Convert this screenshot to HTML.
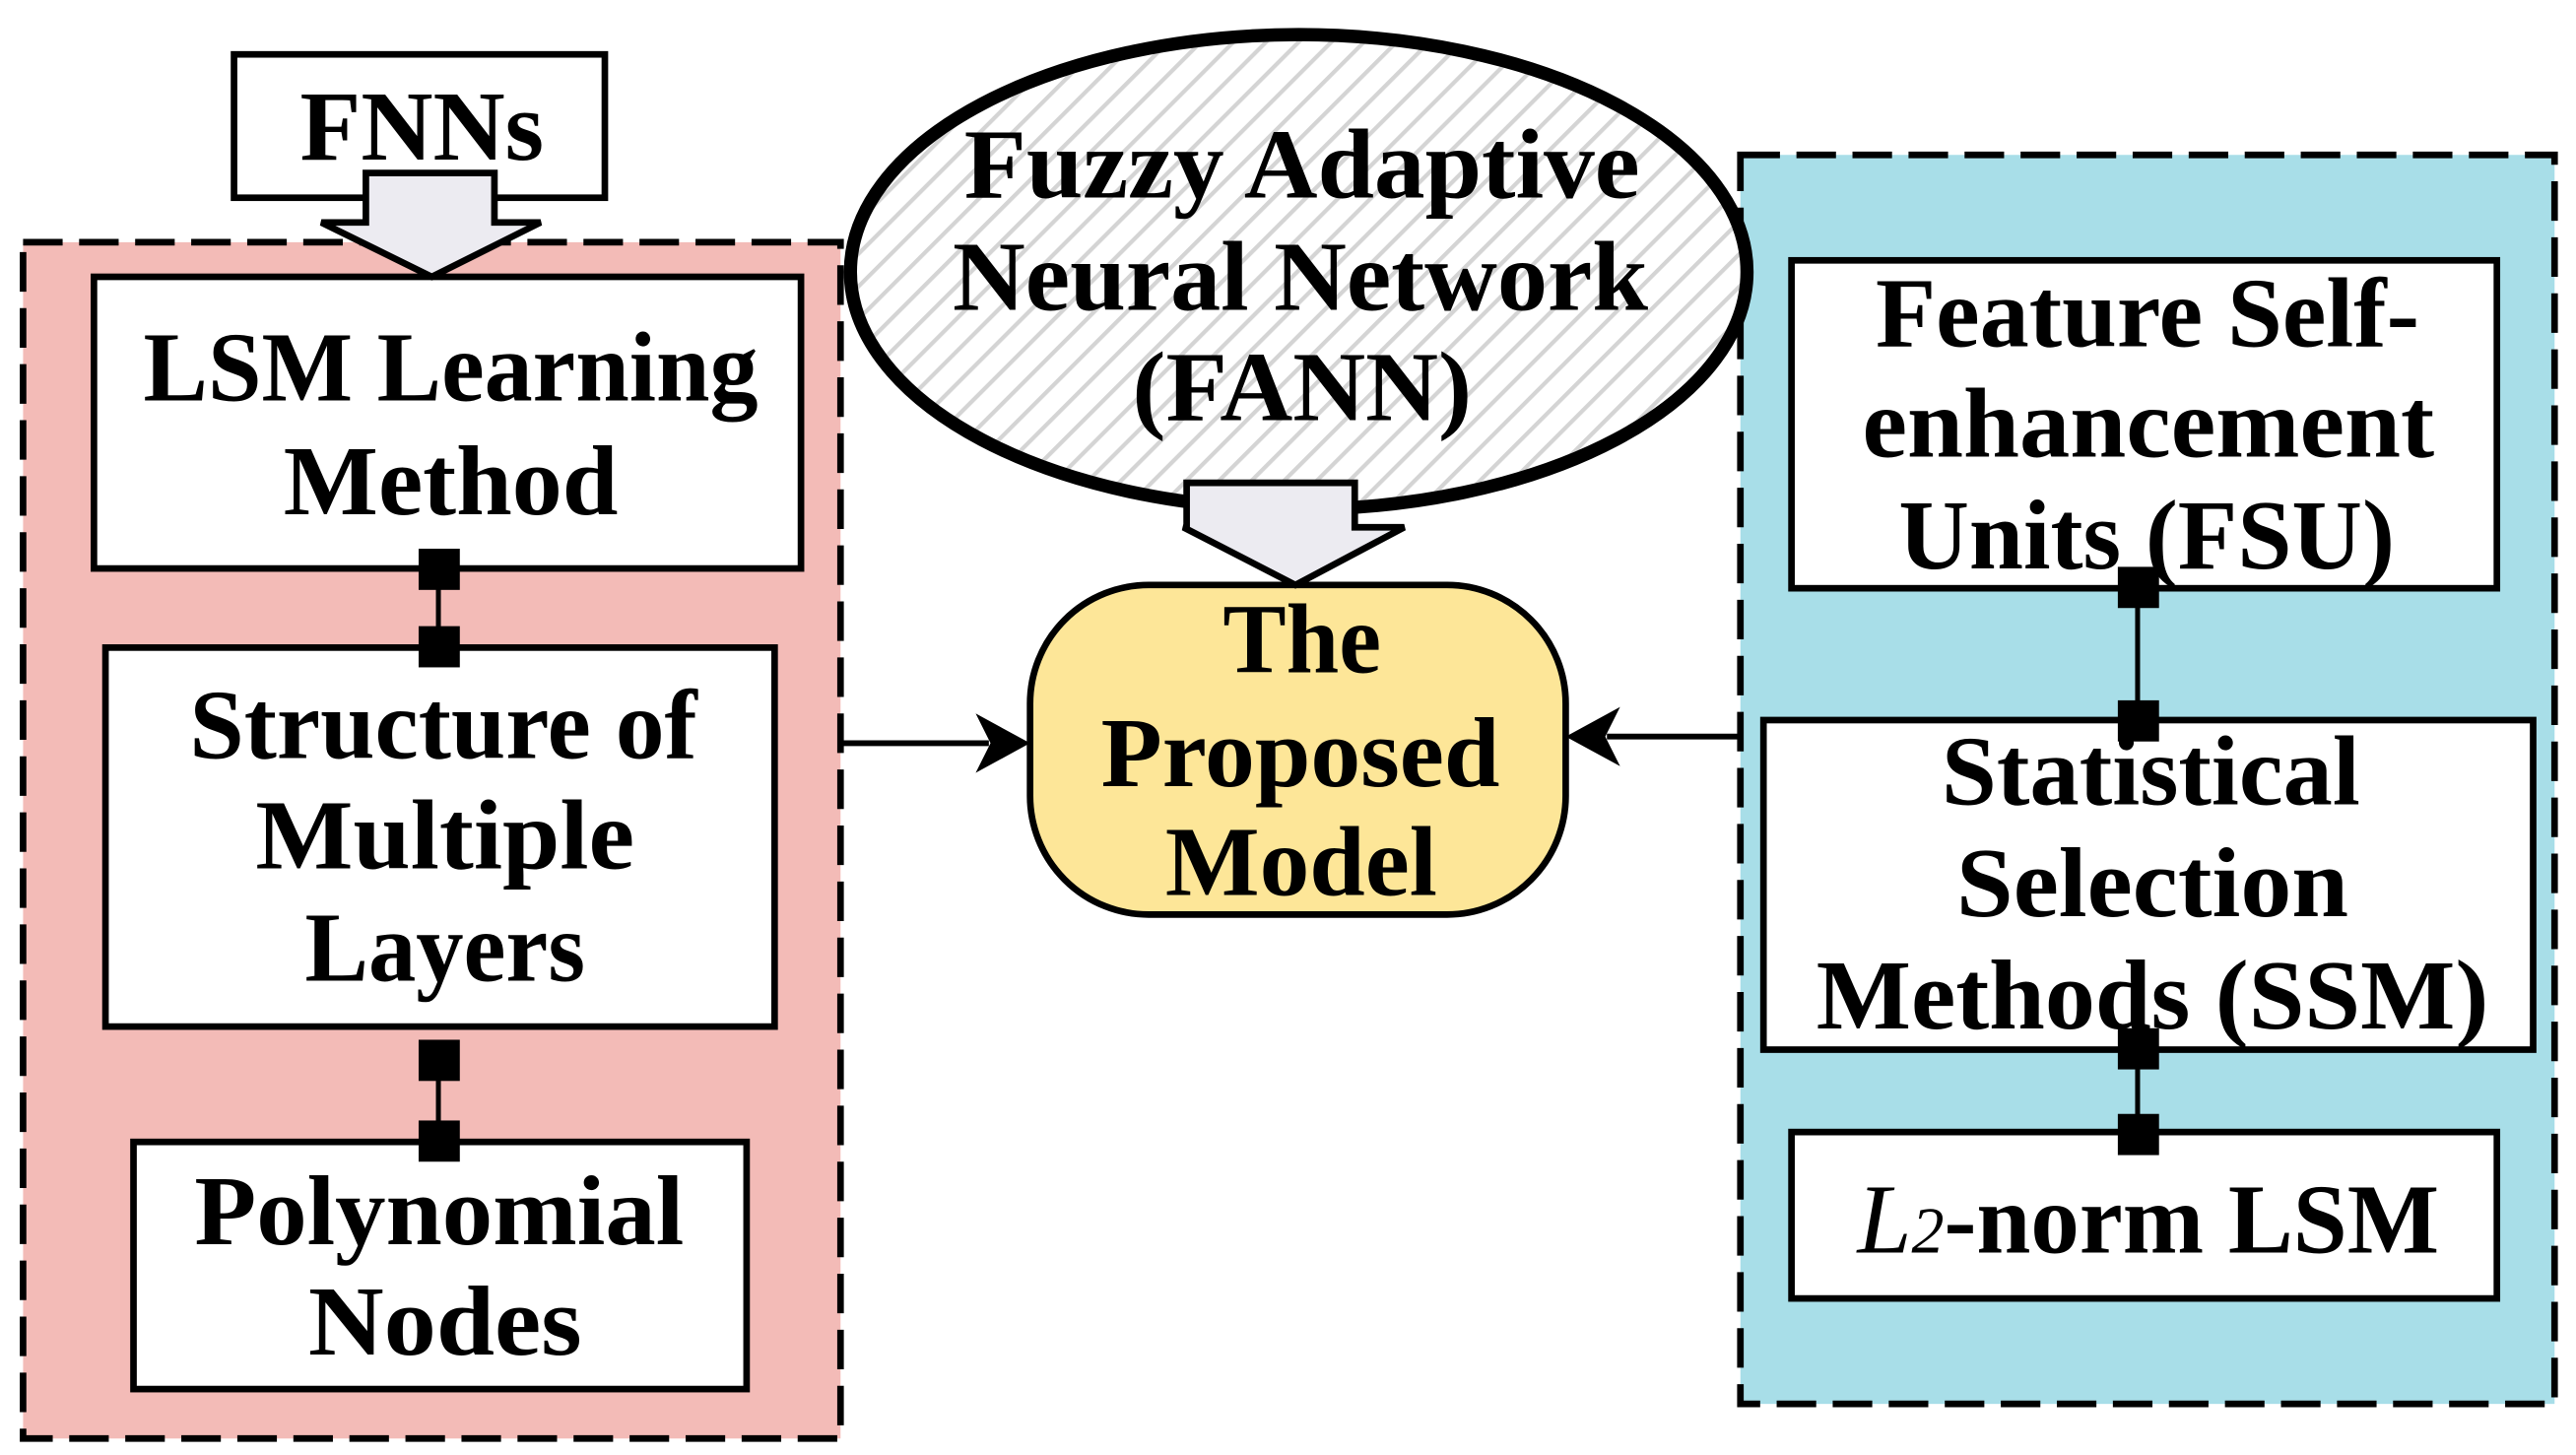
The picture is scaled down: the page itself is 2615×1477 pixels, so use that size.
<!DOCTYPE html>
<html><head><meta charset="utf-8"><style>html,body{margin:0;padding:0;background:#fff}svg{display:block}</style></head>
<body>
<svg width="2615" height="1477" viewBox="0 0 1563 883" preserveAspectRatio="none" xmlns="http://www.w3.org/2000/svg">
<defs>
<pattern id="h" width="14" height="14" patternUnits="userSpaceOnUse" patternTransform="rotate(-45)">
<rect width="14" height="14" fill="#fff"/><rect width="14" height="2.5" fill="#d4d4d4"/>
</pattern>
</defs>
<g font-family="'Liberation Serif', serif" font-weight="bold" font-size="60" fill="#000">
<rect x="14" y="147" width="496" height="726" fill="#f3bbb7" stroke="#000" stroke-width="4" stroke-dasharray="24 10"/>
<rect x="1056" y="94" width="494" height="758" fill="#a8dee8" stroke="#000" stroke-width="4" stroke-dasharray="24 10"/>
<rect x="142" y="33" width="225" height="87" fill="#fff" stroke="#000" stroke-width="4"/>
<text x="182" y="97" textLength="148" lengthAdjust="spacingAndGlyphs">FNNs</text>
<ellipse cx="788" cy="165" rx="272" ry="144" fill="url(#h)" stroke="#000" stroke-width="8"/>
<text x="585" y="120" textLength="410" lengthAdjust="spacingAndGlyphs">Fuzzy Adaptive</text>
<text x="578" y="188" textLength="422" lengthAdjust="spacingAndGlyphs">Neural Network</text>
<text x="687" y="255" textLength="206" lengthAdjust="spacingAndGlyphs">(FANN)</text>
<rect x="57" y="168" width="429" height="177" fill="#fff" stroke="#000" stroke-width="4"/>
<text x="87" y="243" textLength="373" lengthAdjust="spacingAndGlyphs">LSM Learning</text>
<text x="172" y="312" textLength="203" lengthAdjust="spacingAndGlyphs">Method</text>
<polygon points="222,105 300,105 300,135 328,135 262,168 195,135 222,135" fill="#ecebf1" stroke="#000" stroke-width="4"/>
<rect x="64" y="393" width="406" height="230" fill="#fff" stroke="#000" stroke-width="4"/>
<text x="115" y="460" textLength="308" lengthAdjust="spacingAndGlyphs">Structure of</text>
<text x="155" y="527" textLength="230" lengthAdjust="spacingAndGlyphs">Multiple</text>
<text x="185" y="595" textLength="170" lengthAdjust="spacingAndGlyphs">Layers</text>
<rect x="81" y="693" width="372" height="150" fill="#fff" stroke="#000" stroke-width="4"/>
<text x="118" y="755" textLength="297" lengthAdjust="spacingAndGlyphs">Polynomial</text>
<text x="187" y="822" textLength="166" lengthAdjust="spacingAndGlyphs">Nodes</text>
<line x1="266" y1="345" x2="266" y2="393" stroke="#000" stroke-width="3"/>
<rect x="254" y="333" width="25" height="25" fill="#000"/><rect x="254" y="380" width="25" height="25" fill="#000"/>
<line x1="266" y1="643" x2="266" y2="692" stroke="#000" stroke-width="3"/>
<rect x="254" y="631" width="25" height="25" fill="#000"/><rect x="254" y="680" width="25" height="25" fill="#000"/>
<rect x="625" y="355" width="325" height="200" rx="72" ry="72" fill="#fde698" stroke="#000" stroke-width="4"/>
<polygon points="720,293 822,293 822,320 852,320 786,355 718,320 720,320" fill="#ecebf1" stroke="#000" stroke-width="4"/>
<text x="742" y="408" textLength="96" lengthAdjust="spacingAndGlyphs">The</text>
<text x="668" y="477" textLength="242" lengthAdjust="spacingAndGlyphs">Proposed</text>
<text x="707" y="543" textLength="165" lengthAdjust="spacingAndGlyphs">Model</text>
<line x1="510" y1="451" x2="600" y2="451" stroke="#000" stroke-width="3.5"/>
<polygon points="625,451 592,433 601,451 592,469" fill="#000"/>
<line x1="1057" y1="447" x2="975" y2="447" stroke="#000" stroke-width="3.5"/>
<polygon points="950,447 983,429 974,447 983,465" fill="#000"/>
<rect x="1087" y="158" width="428" height="199" fill="#fff" stroke="#000" stroke-width="4"/>
<text x="1138" y="210" textLength="330" lengthAdjust="spacingAndGlyphs">Feature Self-</text>
<text x="1130" y="277" textLength="347" lengthAdjust="spacingAndGlyphs">enhancement</text>
<text x="1152" y="345" textLength="301" lengthAdjust="spacingAndGlyphs">Units (FSU)</text>
<rect x="1070" y="437" width="467" height="200" fill="#fff" stroke="#000" stroke-width="4"/>
<text x="1178" y="488" textLength="254" lengthAdjust="spacingAndGlyphs">Statistical</text>
<text x="1187" y="556" textLength="238" lengthAdjust="spacingAndGlyphs">Selection</text>
<text x="1102" y="624" textLength="408" lengthAdjust="spacingAndGlyphs">Methods (SSM)</text>
<rect x="1087" y="687" width="428" height="101" fill="#fff" stroke="#000" stroke-width="4"/>
<text x="1127" y="760" textLength="353" lengthAdjust="spacingAndGlyphs"><tspan font-style="italic" font-weight="normal">L</tspan><tspan font-style="italic" font-weight="normal" font-size="40">2</tspan><tspan>-norm LSM</tspan></text>
<line x1="1297" y1="356" x2="1297" y2="438" stroke="#000" stroke-width="3"/>
<rect x="1285" y="344" width="25" height="25" fill="#000"/><rect x="1285" y="425" width="25" height="25" fill="#000"/>
<line x1="1297" y1="636" x2="1297" y2="688" stroke="#000" stroke-width="3"/>
<rect x="1285" y="624" width="25" height="25" fill="#000"/><rect x="1285" y="676" width="25" height="25" fill="#000"/>
</g>
</svg>
</body></html>
